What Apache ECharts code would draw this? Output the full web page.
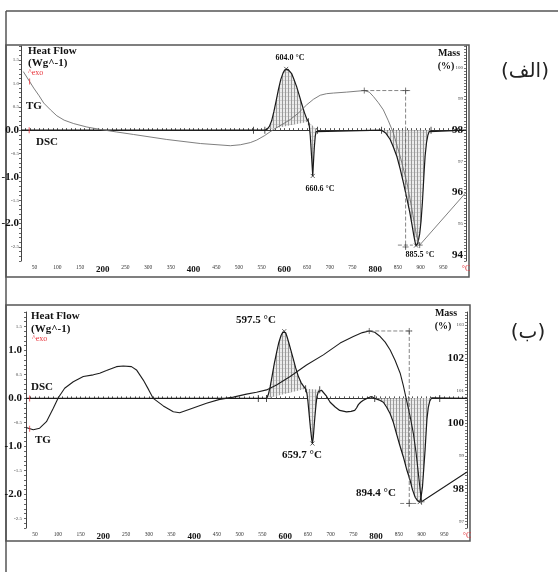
<!DOCTYPE html>
<html>
<head>
<meta charset="utf-8">
<script src="https://cdn.jsdelivr.net/npm/echarts@6/dist/echarts.min.js"></script>
<style>
html,body{margin:0;padding:0;background:#fff}
#chart-container{width:558px;height:572px}
</style>
</head>
<body>
<div id="chart-container"></div>
<script>
const SERIF = '"Liberation Serif", "Times New Roman", serif';

// ---- panel (الف) : DSC (W/g) and TG (mass %) against temperature ----
const dscA_T = [20, 532, 557, 562, 567, 572, 577, 582, 587, 592, 597, 601, 604, 608, 612, 616, 621, 627, 632, 638, 644, 649, 653, 655, 657, 659, 661, 662.5, 664, 666, 668, 670, 673, 814, 823, 833, 840, 848, 855, 862, 869, 876, 881, 885, 888, 890, 894, 898, 901, 904, 906, 908, 910, 913, 916, 919, 923, 1000];
const dscA_V = [0, 0, 0, 0.02, 0.08, 0.2, 0.4, 0.63, 0.87, 1.08, 1.22, 1.29, 1.31, 1.3, 1.27, 1.21, 1.09, 0.93, 0.77, 0.57, 0.38, 0.25, 0.18, 0.08, -0.12, -0.42, -0.74, -0.98, -0.7, -0.36, -0.13, -0.03, 0, 0, -0.06, -0.2, -0.36, -0.57, -0.83, -1.12, -1.43, -1.75, -2.02, -2.25, -2.4, -2.47, -2.42, -2.22, -1.95, -1.55, -1.2, -0.85, -0.55, -0.27, -0.11, -0.03, 0, 0];
const tgA_T = [25, 39, 48, 60, 70, 85, 99, 115, 136, 165, 195, 231, 268, 341, 415, 481, 503, 525, 539, 556, 576, 595, 613, 631, 649, 664, 679, 693, 708, 737, 760, 776, 787, 796, 807, 818, 829, 840, 855, 870, 881, 891, 898, 1000];
const tgA_V = [99.88, 99.56, 99.35, 99.1, 98.87, 98.65, 98.46, 98.32, 98.21, 98.1, 98.02, 97.94, 97.86, 97.7, 97.57, 97.5, 97.53, 97.6, 97.68, 97.82, 98.02, 98.18, 98.34, 98.55, 98.81, 98.99, 99.12, 99.17, 99.19, 99.22, 99.25, 99.27, 99.22, 99.08, 98.88, 98.65, 98.3, 97.91, 97.16, 96.31, 95.46, 94.61, 94.31, 96.0];
const hatchA = [[557, 653], [653, 673], [814, 923]];
const dashA = [[[776, 99.27], [877, 99.27]], [[867, 99.27], [867, 94.2]], [[850, 94.31], [883, 94.31]]];
const limitsA = [[532, 0], [557, 0], [653, 0.18], [673, 0], [814, 0], [923, 0]];
const peaksA = [[604, 1.31], [662.5, -0.98], [890, -2.47]];
const tgMarksA = [[776, 99.27], [867, 99.27], [867, 94.25], [898, 94.31]];
const boldHeatA = ['0.0', '-1.0', '-2.0'];
const boldMassA = [98, 96, 94];

// ---- panel (ب) ----
const dscB_T = [30, 541, 559, 563, 567, 571, 576, 581, 586, 591, 595, 598, 601, 604, 608, 613, 618, 623, 629, 635, 640, 645, 648, 650, 653, 656, 658.5, 660, 662, 664, 666, 668, 670, 673, 676, 680, 690, 699, 710, 720, 735, 745, 753, 757, 761, 766, 772, 780, 787, 792, 797, 806, 816, 823, 831, 838, 845, 852, 860, 867, 875, 880, 886, 891, 896, 899, 902, 905, 908, 910, 912, 915, 918, 922, 1000];
const dscB_V = [0, 0, 0, 0.08, 0.24, 0.45, 0.72, 0.95, 1.16, 1.31, 1.38, 1.4, 1.37, 1.29, 1.16, 0.99, 0.82, 0.64, 0.46, 0.33, 0.26, 0.2, 0.1, -0.05, -0.35, -0.65, -0.86, -0.94, -0.8, -0.55, -0.32, -0.12, 0.04, 0.14, 0.18, 0.17, 0.06, -0.08, -0.18, -0.25, -0.28, -0.27, -0.25, -0.2, -0.13, -0.08, -0.04, 0, 0.03, 0.03, 0, -0.03, -0.08, -0.18, -0.32, -0.5, -0.74, -0.97, -1.22, -1.47, -1.71, -1.9, -2.06, -2.13, -2.16, -2.05, -1.85, -1.45, -1.05, -0.72, -0.42, -0.18, -0.06, 0.01, 0];
const tgB_T = [30, 46, 60, 75, 90, 101, 115, 134, 156, 178, 192, 207, 229, 244, 262, 273, 288, 300, 310, 332, 354, 368, 390, 427, 456, 486, 515, 537, 559, 581, 611, 647, 684, 721, 750, 770, 785, 797, 809, 820, 831, 842, 853, 860, 867, 875, 882, 888, 893, 897, 900, 1000];
const tgB_V = [99.87, 99.8, 99.85, 100.05, 100.46, 100.78, 101.07, 101.27, 101.43, 101.48, 101.53, 101.61, 101.73, 101.75, 101.73, 101.63, 101.32, 101.02, 100.76, 100.53, 100.35, 100.32, 100.43, 100.61, 100.73, 100.8, 100.89, 100.95, 101.02, 101.17, 101.43, 101.78, 102.09, 102.45, 102.65, 102.77, 102.82, 102.78, 102.65, 102.48, 102.24, 101.92, 101.53, 101.15, 100.71, 100.2, 99.69, 99.1, 98.47, 97.95, 97.6, 98.51];
const hatchB = [[559, 645], [645, 676], [797, 922]];
const dashB = [[[785, 102.82], [879, 102.82]], [[873, 102.82], [873, 97.45]], [[853, 97.55], [889, 97.55]]];
const limitsB = [[541, 0], [559, 0], [645, 0.2], [676, 0.18], [797, 0], [940, 0]];
const peaksB = [[598, 1.4], [660, -0.94], [896, -2.16]];
const tgMarksB = [[785, 102.82], [873, 102.82], [873, 97.55], [900, 97.6]];
const boldHeatB = ['1.0', '0.0', '-1.0', '-2.0'];
const boldMassB = [102, 100, 98];

const boldTemps = [200, 400, 600, 800];

const pairs = (T, V) => T.map((t, i) => [t, V[i]]);

// hatch fill like the integrated peak areas
const hatchCanvas = document.createElement('canvas');
hatchCanvas.width = 3; hatchCanvas.height = 4;
const hc = hatchCanvas.getContext('2d');
hc.fillStyle = '#ececec'; hc.fillRect(0, 0, 3, 4);
hc.fillStyle = '#9a9a9a'; hc.fillRect(0, 0, 1, 4);
hc.fillStyle = '#d0d0d0'; hc.fillRect(1, 0, 2, 1);

function tempAxis(grid, min) {
    return {
        type: 'value', gridIndex: grid, min: min, max: 1000, interval: 10,
        axisLine: { lineStyle: { color: '#333', width: 1 } },
        axisTick: { inside: true, length: 2, lineStyle: { color: '#555' } },
        splitLine: { show: false },
        axisLabel: {
            margin: 4,
            formatter: v => {
                const t = Math.round(v);
                if (t === 1000) return '{r|°C}';
                if (boldTemps.includes(t)) return '{b|' + t + '}';
                if (t % 50 === 0) return '{s|' + t + '}';
                return '';
            },
            rich: {
                s: { fontFamily: SERIF, fontSize: 5.5, color: '#333' },
                b: { fontFamily: SERIF, fontSize: 9, fontWeight: 'bold', color: '#111' },
                r: { fontFamily: SERIF, fontSize: 8, color: '#e0363c' }
            }
        }
    };
}

function heatAxis(grid, min, bold, margin) {
    return {
        type: 'value', gridIndex: grid, position: 'left', min: min, max: 1.8, interval: 0.1,
        axisLine: { show: true, lineStyle: { color: '#444', width: 1 } },
        axisTick: { show: true, length: 2, lineStyle: { color: '#666' } },
        splitLine: { show: false },
        axisLabel: {
            margin: margin,
            formatter: v => {
                const k = Math.round(v * 10);
                if (k % 5 !== 0) return '';
                const s = (k / 10).toFixed(1);
                return bold.includes(s) ? '{b|' + s + '}' : '{s|' + s + '}';
            },
            rich: {
                s: { fontFamily: SERIF, fontSize: 5, color: '#444' },
                b: { fontFamily: SERIF, fontSize: 11, fontWeight: 'bold', color: '#111' }
            }
        }
    };
}

function massAxis(grid, min, max, bold) {
    return {
        type: 'value', gridIndex: grid, position: 'right', min: min, max: max, interval: 0.1,
        axisLine: { show: true, lineStyle: { color: '#444', width: 1 } },
        axisTick: { show: true, inside: true, length: 2, lineStyle: { color: '#777' } },
        splitLine: { show: false },
        axisLabel: {
            inside: true, margin: 3,
            formatter: v => {
                const k = Math.round(v * 10);
                if (k % 10 !== 0) return '';
                const n = k / 10;
                return bold.includes(n) ? '{b|' + n + '}' : '{s|' + n + '}';
            },
            rich: {
                s: { fontFamily: SERIF, fontSize: 5, color: '#444' },
                b: { fontFamily: SERIF, fontSize: 11, fontWeight: 'bold', color: '#111' }
            }
        }
    };
}

function curve(x, y, T, V, color, width) {
    return { type: 'line', xAxisIndex: x, yAxisIndex: y, data: pairs(T, V), symbol: 'none',
        lineStyle: { color: color, width: width }, z: 3, silent: true, animation: false };
}

function dashed(x, y, pts) {
    return { type: 'line', xAxisIndex: x, yAxisIndex: y, data: pts, symbol: 'none',
        lineStyle: { color: '#666', width: 0.8, type: [4, 2] }, z: 3, silent: true };
}

function marks(x, y, pts, symbol, size, color) {
    const filled = symbol === 'rect';
    return { type: 'scatter', xAxisIndex: x, yAxisIndex: y, data: pts, symbol: symbol, symbolSize: size,
        itemStyle: filled ? { color: color } : { color: 'transparent', borderColor: color, borderWidth: 0.9 },
        z: 4, silent: true };
}

function hatchSeries(x, y, T, V, spans) {
    return {
        type: 'custom', xAxisIndex: x, yAxisIndex: y, z: 2, silent: true,
        data: spans.map(s => [s[0], s[1], 0]),
        encode: { x: [0, 1], y: 2 },
        renderItem: (params, api) => {
            const s = spans[params.dataIndex];
            const pts = [];
            T.forEach((t, i) => { if (t >= s[0] && t <= s[1]) pts.push(api.coord([t, V[i]])); });
            return { type: 'polygon', shape: { points: pts },
                style: { fill: { image: hatchCanvas, repeat: 'repeat' }, stroke: null } };
        }
    };
}

const PLUS = 'path://M5,0L5,10M0,5L10,5';
const CROSS = 'path://M0,0L10,10M10,0L0,10';

const txt = (x, y, text, font, fill, align) => ({
    type: 'text', x: x, y: y, z: 10, silent: true,
    style: { text: text, font: font, fill: fill || '#111', align: align || 'left', verticalAlign: 'middle' }
});
const B11 = 'bold 11px ' + SERIF;
const B10 = 'bold 10px ' + SERIF;
const B8 = 'bold 8px ' + SERIF;
const RED = '#e8333a';
const AR = '20px "DejaVu Sans", "Noto Sans", sans-serif';

var myChart = echarts.init(document.getElementById('chart-container'));

var option = {
    animation: false,
    grid: [
        { left: 21, top: 46, width: 445, height: 215, outerBoundsMode: 'none' },
        { left: 26, top: 312, width: 441, height: 216, outerBoundsMode: 'none' }
    ],
    xAxis: [tempAxis(0, 20), tempAxis(1, 30)],
    yAxis: [
        heatAxis(0, -2.8, boldHeatA, 2),
        massAxis(0, 93.8, 100.7, boldMassA),
        heatAxis(1, -2.7, boldHeatB, 4),
        massAxis(1, 96.8, 103.4, boldMassB)
    ],
    series: [
        hatchSeries(0, 0, dscA_T, dscA_V, hatchA),
        curve(0, 0, dscA_T, dscA_V, '#1a1a1a', 1.2),
        curve(0, 1, tgA_T, tgA_V, '#707070', 0.9),
        dashed(0, 1, dashA[0]), dashed(0, 1, dashA[1]), dashed(0, 1, dashA[2]),
        marks(0, 0, limitsA, 'rect', [1, 7], '#222'),
        marks(0, 0, peaksA, CROSS, 4, '#222'),
        marks(0, 1, tgMarksA, PLUS, 6, '#444'),
        marks(0, 0, [[38, 0]], 'rect', [1, 6], RED),
        marks(0, 1, [[39, 99.56]], 'rect', [1, 6], RED),

        hatchSeries(1, 2, dscB_T, dscB_V, hatchB),
        curve(1, 2, dscB_T, dscB_V, '#1a1a1a', 1.2),
        curve(1, 3, tgB_T, tgB_V, '#1e1e1e', 1.1),
        dashed(1, 3, dashB[0]), dashed(1, 3, dashB[1]), dashed(1, 3, dashB[2]),
        marks(1, 2, limitsB, 'rect', [1, 7], '#222'),
        marks(1, 2, peaksB, CROSS, 4, '#222'),
        marks(1, 3, tgMarksB, PLUS, 6, '#444'),
        marks(1, 2, [[38, 0]], 'rect', [1, 6], RED),
        marks(1, 3, [[38, 99.83]], 'rect', [1, 6], RED)
    ],
    graphic: [
        { type: 'line', shape: { x1: 6, y1: 11, x2: 558, y2: 11 }, style: { stroke: '#555', lineWidth: 1.5 } },
        { type: 'line', shape: { x1: 6, y1: 11, x2: 6, y2: 572 }, style: { stroke: '#555', lineWidth: 1.5 } },
        { type: 'rect', shape: { x: 6, y: 45, width: 463, height: 232 }, style: { fill: 'none', stroke: '#555', lineWidth: 1.5 } },
        { type: 'rect', shape: { x: 6, y: 305, width: 464, height: 236 }, style: { fill: 'none', stroke: '#555', lineWidth: 1.5 } },

        txt(28, 51, 'Heat Flow', B11), txt(28, 63, '(Wg^-1)', B11), txt(28, 73, '^exo', '8px ' + SERIF, RED),
        txt(26, 106, 'TG', B11), txt(36, 142, 'DSC', B11),
        txt(290, 58, '604.0 °C', B8, '#111', 'center'),
        txt(320, 189, '660.6 °C', B8, '#111', 'center'),
        txt(420, 255, '885.5 °C', B8, '#111', 'center'),
        txt(449, 53, 'Mass', B10, '#111', 'center'),
        txt(446, 66, '(%)', B10, '#111', 'center'),

        txt(31, 316, 'Heat Flow', B11), txt(31, 329, '(Wg^-1)', B11), txt(32, 339, '^exo', '8px ' + SERIF, RED),
        txt(31, 387, 'DSC', B11), txt(35, 440, 'TG', B11),
        txt(256, 320, '597.5 °C', B11, '#111', 'center'),
        txt(302, 455, '659.7 °C', B11, '#111', 'center'),
        txt(376, 493, '894.4 °C', B11, '#111', 'center'),
        txt(446, 313, 'Mass', B10, '#111', 'center'),
        txt(443, 326, '(%)', B10, '#111', 'center'),

        txt(525, 72, '(الف)', AR, '#222', 'center'),
        txt(528, 333, '(ب)', AR, '#222', 'center')
    ]
};

myChart.setOption(option);
</script>
</body>
</html>
